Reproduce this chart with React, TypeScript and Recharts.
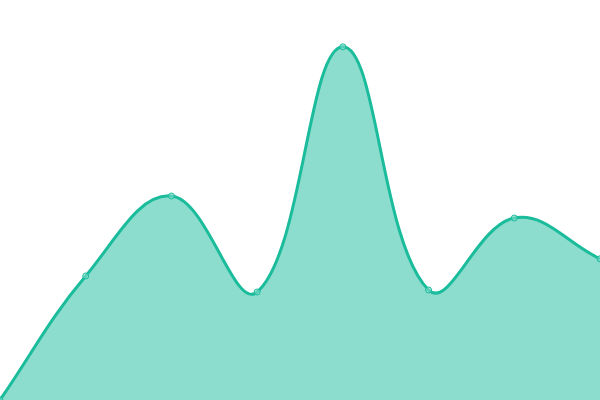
import React from "react";
import { AreaChart, Area, XAxis, YAxis } from "recharts";

// x categories (no visible labels in the chart)
const labels = ["A", "B", "C", "D", "E", "F", "G", "H"];
// series values (axis runs 0..100)
const values = [0, 31, 51, 27, 88.3, 27.5, 45.5, 35.3];

const data = labels.map((name, i) => ({ name, value: values[i] }));

const TENSION = 0.4;

// distance-weighted spline, collects the points and draws them at lineEnd
class Spline {
  _context: any;
  _line = NaN;
  _pts: [number, number][] = [];
  constructor(context: any) {
    this._context = context;
  }
  areaStart() { this._line = 0; }
  areaEnd() { this._line = NaN; }
  lineStart() { this._pts = []; }
  point(x: number, y: number) { this._pts.push([+x, +y]); }
  lineEnd() {
    const ctx = this._context;
    const p = this._pts;
    const n = p.length;
    if (n > 0) {
      if (this._line) ctx.lineTo(p[0][0], p[0][1]);
      else ctx.moveTo(p[0][0], p[0][1]);
    }
    const cps = p.map((cur, i) => {
      const prev = i > 0 ? p[i - 1] : cur;
      const next = i < n - 1 ? p[i + 1] : cur;
      const d01 = Math.hypot(cur[0] - prev[0], cur[1] - prev[1]);
      const d12 = Math.hypot(next[0] - cur[0], next[1] - cur[1]);
      let s01 = d01 / (d01 + d12);
      let s12 = d12 / (d01 + d12);
      if (isNaN(s01)) s01 = 0;
      if (isNaN(s12)) s12 = 0;
      const fa = TENSION * s01;
      const fb = TENSION * s12;
      return {
        px: cur[0] - fa * (next[0] - prev[0]),
        py: cur[1] - fa * (next[1] - prev[1]),
        nx: cur[0] + fb * (next[0] - prev[0]),
        ny: cur[1] + fb * (next[1] - prev[1]),
      };
    });
    for (let i = 1; i < n; i++) {
      ctx.bezierCurveTo(cps[i - 1].nx, cps[i - 1].ny, cps[i].px, cps[i].py, p[i][0], p[i][1]);
    }
    if (this._line || (this._line !== 0 && n === 1)) ctx.closePath();
    this._line = 1 - this._line;
  }
}

const curveSpline = (context: any) => new Spline(context);

const App: React.FC = () => {
  return (
    <div style={{ position: "fixed", left: 0, top: 0, width: 600, height: 400, background: "#fff" }}>
      <AreaChart width={600} height={400} data={data} margin={{ top: 0, right: 0, bottom: 0, left: 0 }}>
        <XAxis dataKey="name" hide />
        <YAxis domain={[0, 100]} hide />
        <Area
          type={curveSpline as any}
          dataKey="value"
          stroke="#1abc9c"
          strokeWidth={3}
          fill="#1abc9c"
          fillOpacity={0.5}
          dot={{ r: 3, fill: "#8ee0cf", stroke: "#1abc9c", strokeWidth: 1 }}
          activeDot={false}
          isAnimationActive={false}
        />
      </AreaChart>
    </div>
  );
};

export default App;
